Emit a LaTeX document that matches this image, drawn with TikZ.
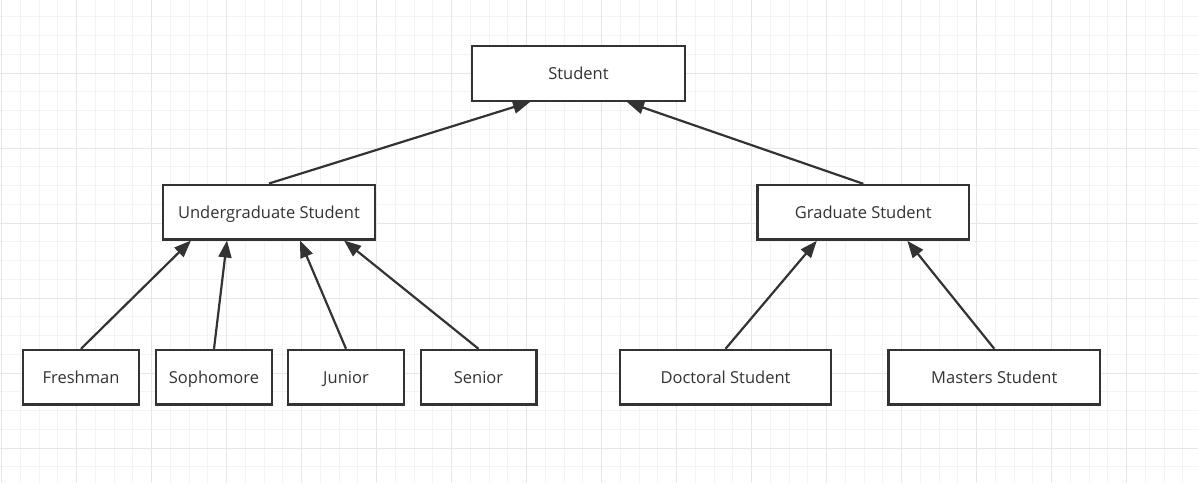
\documentclass[tikz,border=0pt]{standalone}
\usepackage{fontspec}
\setmainfont{Open Sans}
\usetikzlibrary{arrows.meta, calc}
\definecolor{ink}{HTML}{333333}
\definecolor{gridminor}{HTML}{F3F3F3}
\definecolor{gridmajor}{HTML}{E6E6E6}
\tikzset{
    cls/.style = {draw=ink, line width=2.4pt, fill=white, text=ink,
        minimum height=54.6pt, inner sep=0pt,
        text height=15pt, text depth=3pt,
        font=\fontsize{16.5}{20}\selectfont},
    inh/.style = {draw=ink, line width=2.2pt,
        -{Triangle[length=17pt, width=13pt]}},
}

\begin{document}
\begin{tikzpicture}[x=1pt, y=-1pt]
\useasboundingbox[fill=white] (0,0) rectangle (1198,483);
% grid
\foreach \i in {0,...,63}
    \draw[gridminor, line width=1pt] ({1.7+18.75*\i},0) -- ({1.7+18.75*\i},483);
\foreach \j in {1,...,25}
    \draw[gridminor, line width=1pt] (0,{-2+18.75*\j}) -- (1198,{-2+18.75*\j});
\foreach \i in {0,...,15}
    \draw[gridmajor, line width=1pt] ({1.7+75*\i},0) -- ({1.7+75*\i},483);
\foreach \j in {1,...,6}
    \draw[gridmajor, line width=1pt] (0,{-2+75*\j}) -- (1198,{-2+75*\j});

\node[cls, minimum width=212.6pt] (st) at (578.5,73.5) {Student};

\node[cls, minimum width=211.6pt] (ug) at (269,212) {Undergraduate Student};
\node[cls, minimum width=211.6pt] (gr) at (863.3,212.3) {Graduate Student};
\draw[inh] (ug.north) -- ($(st.south)+(-48.5,0)$);
\draw[inh] (gr.north) -- ($(st.south)+(48.5,0)$);

\node[cls, minimum width=115.6pt] (fr) at (81,377.3) {Freshman};
\node[cls, minimum width=115.6pt] (so) at (214,377.3) {Sophomore};
\node[cls, minimum width=115.6pt] (ju) at (346,377.3) {Junior};
\node[cls, minimum width=115.6pt] (se) at (478.5,377.3) {Senior};
\draw[inh] (fr.north) -- ($(ug.south)+(-78,0)$);
\draw[inh] (so.north) -- ($(ug.south)+(-42,0)$);
\draw[inh] (ju.north) -- ($(ug.south)+(31,0)$);
\draw[inh] (se.north) -- ($(ug.south)+(75,0)$);

\node[cls, minimum width=210.6pt] (dr) at (725.5,377.3) {Doctoral Student};
\node[cls, minimum width=211.6pt] (ms) at (994.3,377.3) {Masters Student};
\draw[inh] (dr.north) -- ($(gr.south)+(-46.5,0)$);
\draw[inh] (ms.north) -- ($(gr.south)+(44,0)$);
\end{tikzpicture}
\end{document}
